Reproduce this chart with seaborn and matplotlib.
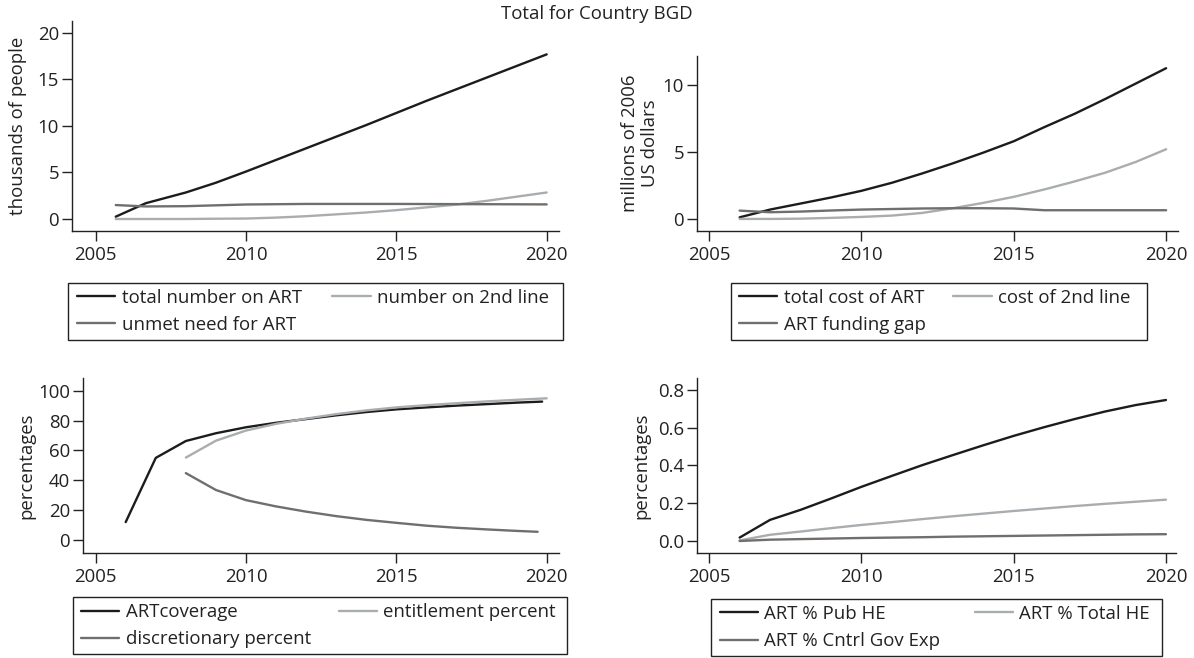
import matplotlib
matplotlib.use("Agg")
import matplotlib.pyplot as plt
from matplotlib.patches import Rectangle
import seaborn as sns
import pandas as pd

# ---------------- data ----------------
# Panel 1: thousands of people
p1_x_total = [2005.67, 2006.67, 2008, 2009, 2010, 2011, 2012, 2013, 2014, 2015, 2016, 2017, 2018, 2019, 2020]
p1_total = [0.25, 1.7, 2.85, 3.9, 5.1, 6.35, 7.6, 8.85, 10.1, 11.4, 12.7, 13.95, 15.2, 16.45, 17.7]
p1_x_second = [2005.67, 2006.67, 2008, 2009, 2010, 2011, 2012, 2013, 2014, 2015, 2016, 2017, 2018, 2019, 2020]
p1_second = [0.0, 0.0, 0.0, 0.03, 0.05, 0.15, 0.3, 0.5, 0.7, 0.95, 1.25, 1.55, 1.95, 2.4, 2.85]
p1_x_unmet = [2005.67, 2006.67, 2008, 2010, 2012, 2015, 2017, 2020]
p1_unmet = [1.5, 1.35, 1.38, 1.56, 1.62, 1.62, 1.6, 1.57]
p1_labels = ["total number on ART", "number on 2nd line", "unmet need for ART"]

# Panel 2: millions of 2006 US dollars
p2_years = [2006, 2007, 2008, 2009, 2010, 2011, 2012, 2013, 2014, 2015, 2016, 2017, 2018, 2019, 2020]
p2_total_cost = [0.12, 0.7, 1.15, 1.6, 2.1, 2.7, 3.4, 4.15, 4.95, 5.8, 6.85, 7.85, 8.95, 10.1, 11.25]
p2_second_cost = [0.0, 0.0, 0.02, 0.08, 0.15, 0.25, 0.45, 0.8, 1.2, 1.65, 2.2, 2.8, 3.45, 4.25, 5.2]
p2_gap = [0.62, 0.5, 0.55, 0.63, 0.7, 0.74, 0.78, 0.8, 0.8, 0.78, 0.65, 0.65, 0.65, 0.65, 0.65]
p2_labels = ["total cost of ART", "cost of 2nd line", "ART funding gap"]

# Panel 3: percentages
p3_x_cov = [2006, 2007, 2008, 2009, 2010, 2011, 2012, 2013, 2014, 2015, 2016, 2017, 2018, 2019, 2019.85]
p3_cov = [12, 55, 66.3, 71.5, 75.5, 78.5, 81, 83.5, 85.7, 87.5, 88.8, 90, 91, 92, 92.7]
p3_x_ent = [2008, 2009, 2010, 2011, 2012, 2013, 2014, 2015, 2016, 2017, 2018, 2019, 2020]
p3_ent = [55.2, 66.5, 73.3, 77.8, 81.3, 84.3, 86.8, 88.8, 90.3, 91.6, 92.8, 93.9, 94.9]
p3_x_dis = [2008, 2009, 2010, 2011, 2012, 2013, 2014, 2015, 2016, 2017, 2018, 2019, 2019.7]
p3_dis = [44.8, 33.5, 26.7, 22.5, 19.0, 16.0, 13.5, 11.5, 9.6, 8.2, 7.1, 6.1, 5.5]
p3_labels = ["ARTcoverage", "entitlement percent", "discretionary percent"]

# Panel 4: percentages
p4_years = [2006, 2007, 2008, 2009, 2010, 2011, 2012, 2013, 2014, 2015, 2016, 2017, 2018, 2019, 2020]
p4_pub = [0.018, 0.112, 0.165, 0.225, 0.287, 0.345, 0.402, 0.455, 0.507, 0.557, 0.603, 0.646, 0.686, 0.72, 0.747]
p4_tot = [0.003, 0.033, 0.05, 0.068, 0.085, 0.1, 0.116, 0.131, 0.145, 0.159, 0.172, 0.185, 0.197, 0.208, 0.219]
p4_gov = [0.0, 0.007, 0.01, 0.013, 0.016, 0.018, 0.02, 0.023, 0.025, 0.027, 0.029, 0.031, 0.033, 0.035, 0.036]
p4_labels = ["ART % Pub HE", "ART % Total HE", "ART % Cntrl Gov Exp"]

title = "Total for Country BGD"
xticks = [2005, 2010, 2015, 2020]

# ---------------- style ----------------
sns.set_style("ticks")
plt.rcParams['font.family'] = ['Open Sans', 'DejaVu Sans']
FS = 13.4
INK = "#222222"
C_BLACK = "#1c1c1c"
C_LIGHT = "#a9adb0"
C_MID = "#6f6f6f"
LW = 1.7

W, H = 1194, 658
fig = plt.figure(figsize=(W / 100, H / 100), dpi=100)


def box(x0, y0, x1, y1):
    return [x0 / W, 1 - y1 / H, (x1 - x0) / W, (y1 - y0) / H]


def style(ax, xlim, ylim, yticks, yfmt=None):
    ax.set_xlim(*xlim)
    ax.set_ylim(*ylim)
    ax.set_xticks(xticks)
    ax.set_yticks(yticks)
    if yfmt:
        ax.set_yticklabels([yfmt.format(v) for v in yticks])
    else:
        ax.set_yticklabels([str(v) for v in yticks])
    for s in ["top", "right"]:
        ax.spines[s].set_visible(False)
    for s in ["left", "bottom"]:
        ax.spines[s].set_linewidth(1.0)
        ax.spines[s].set_color(INK)
    ax.tick_params(axis="both", length=7, width=1.0, color=INK, labelsize=FS, labelcolor=INK)
    ax.tick_params(axis="y", pad=2.5)
    ax.tick_params(axis="x", pad=4)
    ax.set_xlabel("")
    ax.set_ylabel("")
    ax.patch.set_alpha(0)


def draw(ax, series):
    handles = []
    for xs, ys, col in series:
        df = pd.DataFrame({"x": xs, "y": ys})
        sns.lineplot(data=df, x="x", y="y", ax=ax, color=col, linewidth=LW, legend=False)
        handles.append(ax.lines[-1])
    return handles


def legend(handles, labels, x0, y0, x1, y1, pad_l=8.5, pad_r=13):
    fig.add_artist(Rectangle((x0 / W, 1 - y1 / H), (x1 - x0) / W, (y1 - y0) / H,
                             transform=fig.transFigure, fill=False, lw=1.0, ec=INK))
    h = [handles[0], handles[2], handles[1]]
    l = [labels[0], labels[2], labels[1]]
    leg = fig.legend(h, l, loc="center",
                     bbox_to_anchor=((x0 + pad_l) / W, 1 - y1 / H,
                                     (x1 - x0 - pad_l - pad_r) / W, (y1 - y0) / H),
                     bbox_transform=fig.transFigure, mode="expand", ncol=2,
                     frameon=False, borderpad=0, labelspacing=0.5, handlelength=2.05,
                     handletextpad=0.36, borderaxespad=0, columnspacing=1.0,
                     fontsize=FS)
    for t in leg.get_texts():
        t.set_color(INK)
    return leg


# Panel 1
ax1 = fig.add_axes(box(72.3, 20.7, 559.3, 231))
h1 = draw(ax1, [(p1_x_total, p1_total, C_BLACK), (p1_x_second, p1_second, C_LIGHT),
                (p1_x_unmet, p1_unmet, C_MID)])
style(ax1, (2004.225, 2020.42), (-1.29, 21.32), [0, 5, 10, 15, 20])
fig.text(18.5 / W, 1 - 126 / H, "thousands of people", rotation=90, ha="center", va="center",
         fontsize=FS, color=INK)
legend(h1, p1_labels, 68.3, 282.7, 563.3, 339.7, pad_r=14)

# Panel 2
ax2 = fig.add_axes(box(697.3, 56, 1178.3, 231))
h2 = draw(ax2, [(p2_years, p2_total_cost, C_BLACK), (p2_years, p2_second_cost, C_LIGHT),
                (p2_years, p2_gap, C_MID)])
style(ax2, (2004.61, 2020.40), (-0.9, 12.16), [0, 5, 10])
fig.text(640 / W, 1 - 143.5 / H, "millions of 2006\nUS dollars", rotation=90, ha="center",
         va="center", fontsize=FS, color=INK, linespacing=1.1, multialignment="center")
legend(h2, p2_labels, 730.7, 282.7, 1146.7, 339.7, pad_r=16)

# Panel 3
ax3 = fig.add_axes(box(83.3, 378.3, 559.3, 552.7))
h3 = draw(ax3, [(p3_x_cov, p3_cov, C_BLACK), (p3_x_ent, p3_ent, C_LIGHT),
                (p3_x_dis, p3_dis, C_MID)])
style(ax3, (2004.59, 2020.42), (-8.5, 108.3), [0, 20, 40, 60, 80, 100])
fig.text(26 / W, 1 - 465.5 / H, "percentages", rotation=90, ha="center", va="center",
         fontsize=FS, color=INK)
legend(h3, p3_labels, 72.7, 597.3, 567, 654.3, pad_r=11)

# Panel 4
ax4 = fig.add_axes(box(697.3, 378.3, 1176, 552.7))
h4 = draw(ax4, [(p4_years, p4_pub, C_BLACK), (p4_years, p4_tot, C_LIGHT),
                (p4_years, p4_gov, C_MID)])
style(ax4, (2004.61, 2020.33), (-0.062, 0.862), [0.0, 0.2, 0.4, 0.6, 0.8], "{:.1f}")
fig.text(641.5 / W, 1 - 465.5 / H, "percentages", rotation=90, ha="center", va="center",
         fontsize=FS, color=INK)
legend(h4, p4_labels, 711, 599.3, 1162, 656, pad_r=12)

fig.text(0.5, 1 - 14 / H, title, ha="center", va="center", fontsize=FS, color=INK)

fig.savefig("out.png", dpi=100, facecolor="white")
